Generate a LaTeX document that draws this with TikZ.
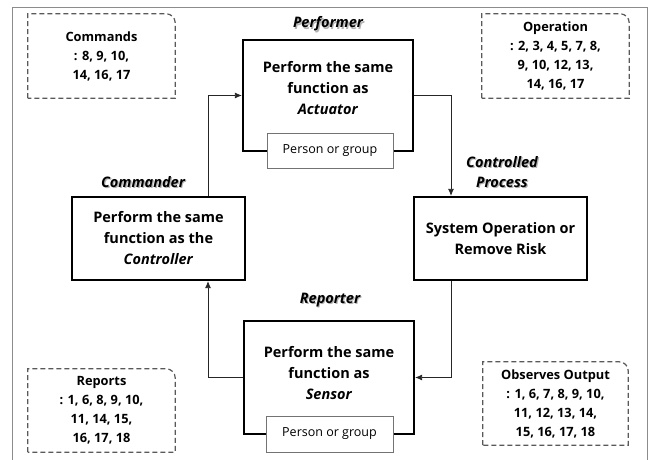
\documentclass[tikz,border=0pt]{standalone}
\usepackage{fontspec}
\setmainfont{Open Sans}
\usetikzlibrary{arrows.meta,calc}

\tikzset{
  outerframe/.style={draw=black!45, line width=0.9pt},
  heavy/.style={draw=black, line width=2.2pt, fill=white, inner sep=0pt},
  tagbox/.style={draw=black!55, line width=0.8pt, fill=white, inner sep=0pt,
    minimum width=126pt, minimum height=35pt, font=\fontsize{12.5}{14}\selectfont},
  body/.style={align=center, inner sep=0pt, font=\bfseries\fontsize{14.5}{21}\selectfont},
  role/.style={align=center, inner sep=0pt, font=\bfseries\itshape\fontsize{14.5}{20}\selectfont},
  roleshade/.style={role, text=black!30},
  note/.style={align=center, inner sep=0pt, font=\bfseries\fontsize{12.8}{19}\selectfont},
  dashbox/.style={draw=black!65, line width=1.2pt, dash pattern=on 5pt off 3pt},
  conn/.style={draw=black!85, line width=0.8pt, -{Latex[length=7pt,width=6pt]}},
}

% rectangle with a rounded top-right corner, drawn around a named node
\newcommand{\notebox}[1]{%
  \draw[dashbox] (#1.south west) -- (#1.north west)
    -- ([xshift=-9pt]#1.north east) arc[start angle=90, end angle=0, radius=9pt]
    -- (#1.south east) -- cycle;}

% italic role label with a soft drop shadow
\newcommand{\rolelabel}[3]{%
  \node[roleshade] (#1shade) at ($(#2)+(1.2,1.2)$) {#3};
  \node[role] (#1) at (#2) {#3};}

\begin{document}
\begin{tikzpicture}[x=1pt, y=-1pt]
\useasboundingbox (0,0) rectangle (649,460);

% open frame around the figure
\draw[outerframe] (12,460) -- (12,7) -- (647,7) -- (647,460);

% main blocks
\node[heavy, minimum width=170pt, minimum height=111pt] (perf) at (328,95.5) {};
\node[heavy, minimum width=173pt, minimum height=83pt]  (cmd)  at (158.5,238.5) {};
\node[heavy, minimum width=173pt, minimum height=83pt]  (sys)  at (500.5,238.5) {};
\node[heavy, minimum width=170pt, minimum height=113pt] (rep)  at (329,377.5) {};

\node[tagbox] (perftag) at (330,150.5) {Person or group};
\node[tagbox, minimum width=127pt, minimum height=36pt] (reptag) at (329.5,434) {Person or group};

\node[body] (perftext) at (328,88)  {Perform the same\\function as\\\textit{Actuator}};
\node[body] (cmdtext)  at (158.5,238.5) {Perform the same\\function as the\\\textit{Controller}};
\node[body] (systext)  at (500.5,239) {System Operation or\\Remove Risk};
\node[body] (reptext)  at (329,373) {Perform the same\\function as\\\textit{Sensor}};

% role labels
\rolelabel{perfrole}{328,24}{Performer}
\rolelabel{cmdrole}{143,182}{Commander}
\rolelabel{sysrole}{502,172}{Controlled\\Process}
\rolelabel{reprole}{330,300}{Reporter}

% control loop
\coordinate (lx) at (208,0);
\coordinate (rx) at (451,0);
\draw[conn] (lx |- cmd.north) |- (perf.west);
\draw[conn] (perf.east) -| (rx |- sys.north);
\draw[conn] (rx |- sys.south) |- (rep.east);
\draw[conn] (rep.west) -| (lx |- cmd.south);

% notes
\node[note, minimum width=147pt, minimum height=84pt] (cmdnote) at (101.5,56)
  {Commands\\: 8, 9, 10,\\14, 16, 17};
\node[note, minimum width=147pt, minimum height=84pt] (opnote) at (555.5,56)
  {Operation\\: 2, 3, 4, 5, 7, 8,\\9, 10, 12, 13,\\14, 16, 17};
\node[note, minimum width=147pt, minimum height=83pt] (repnote) at (101.5,410.5)
  {Reports\\: 1, 6, 8, 9, 10,\\11, 14, 15,\\16, 17, 18};
\node[note, minimum width=145pt, minimum height=83pt] (obsnote) at (555.5,403.5)
  {Observes Output\\: 1, 6, 7, 8, 9, 10,\\11, 12, 13, 14,\\15, 16, 17, 18};
\notebox{cmdnote}
\notebox{opnote}
\notebox{repnote}
\notebox{obsnote}
\end{tikzpicture}
\end{document}
